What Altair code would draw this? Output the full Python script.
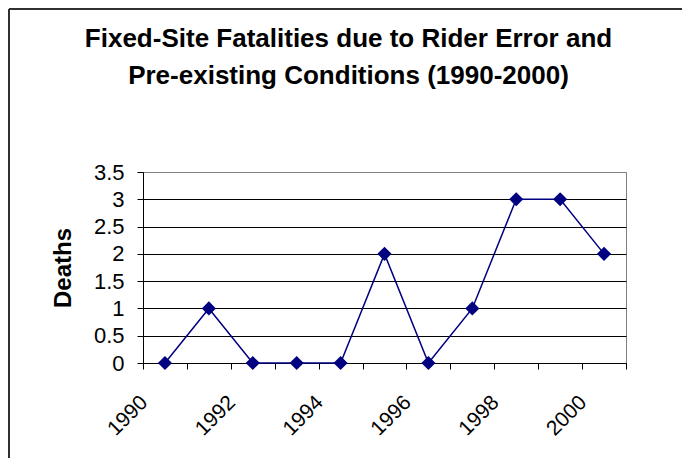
import altair as alt
import pandas as pd

# ---- data ----
years = [1990, 1991, 1992, 1993, 1994, 1995, 1996, 1997, 1998, 1999, 2000]
deaths = [0, 1, 0, 0, 0, 2, 0, 1, 3, 3, 2]
y_tick_values = [0, 0.5, 1, 1.5, 2, 2.5, 3, 3.5]
x_label_years = [1990, 1992, 1994, 1996, 1998, 2000]
category_edges = [1989.5, 1990.5, 1991.5, 1992.5, 1993.5, 1994.5,
                  1995.5, 1996.5, 1997.5, 1998.5, 1999.5, 2000.5]
title_lines = ["Fixed-Site Fatalities due to Rider Error and",
               "Pre-existing Conditions (1990-2000)"]
y_title = "Deaths"

df = pd.DataFrame({"Year": years, "Deaths": deaths})

NAVY = "#000080"
FONT = "Arial"

x_enc = alt.X(
    "Year:Q",
    scale=alt.Scale(domain=[category_edges[0], category_edges[-1]], nice=False, zero=False),
    axis=alt.Axis(
        values=category_edges + x_label_years,
        title=None,
        grid=False,
        tickSize=6,
        tickColor="black",
        tickWidth=1,
        tickOpacity={"condition": {"test": "datum.value % 1 == 0", "value": 0}, "value": 1},
        domainColor="black",
        domainWidth=1,
        labelExpr="datum.value % 2 == 0 ? '' + datum.value : ''",
        labelAngle=315,
        labelAlign="right",
        labelBaseline="middle",
        labelOffset=-21,
        labelPadding=30,
        labelFont=FONT,
        labelFontSize=21,
        labelColor="black",
        labelOverlap=False,
        labelBound=False,
        labelFlush=False,
    ),
)

y_enc = alt.Y(
    "Deaths:Q",
    scale=alt.Scale(domain=[0, 3.5], nice=False),
    axis=alt.Axis(
        values=y_tick_values,
        format="~g",
        grid=True,
        gridColor={"condition": {"test": "datum.value == 3.5", "value": "#808080"}, "value": "black"},
        gridWidth=1,
        tickSize=6,
        tickColor="black",
        domainColor="black",
        domainWidth=1,
        labelPadding=13,
        labelFont=FONT,
        labelFontSize=22,
        labelColor="black",
        title=y_title,
        titleFont=FONT,
        titleFontSize=24,
        titleFontWeight="bold",
        titleColor="black",
        titleAngle=270,
        titleAlign="center",
        titleBaseline="middle",
        titleX=-80,
        titleY=95.5,
    ),
)

base = alt.Chart(df).encode(x=x_enc, y=y_enc)

line = base.mark_line(color=NAVY, strokeWidth=1.5)
points = base.mark_point(shape="diamond", filled=True, size=200, color=NAVY, opacity=1)

one_row = pd.DataFrame({"k": [0]})
left_border = alt.Chart(one_row).mark_rule(color="#303030", strokeWidth=2).encode(
    x=alt.value(-134), y=alt.value(-163), y2=alt.value(303)
)
top_border = alt.Chart(one_row).mark_rule(color="#303030", strokeWidth=2).encode(
    x=alt.value(-134), x2=alt.value(539), y=alt.value(-163)
)

chart = alt.layer(line, points, left_border, top_border).properties(
    width=483,
    height=191,
    autosize=alt.AutoSizeParams(type="none"),
    padding={"left": 135, "top": 164, "right": 56, "bottom": 95},
    background="white",
    title=alt.TitleParams(
        text=title_lines,
        font=FONT,
        fontSize=26,
        fontWeight="bold",
        color="black",
        anchor="middle",
        frame="group",
        dx=-36,
        baseline="top",
        offset=-81,
        lineHeight=37,
    ),
).configure_view(stroke="#808080", strokeWidth=1)

chart.save("out.html", embed_options={"renderer": "svg", "actions": False})
